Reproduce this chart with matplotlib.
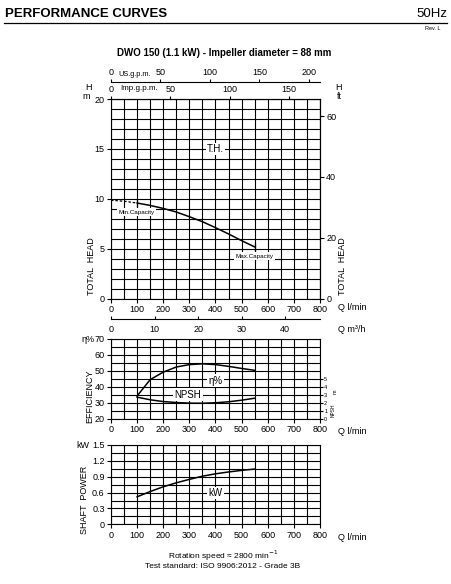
import numpy as np
import matplotlib
matplotlib.use("Agg")
import matplotlib.pyplot as plt
from matplotlib import font_manager
from matplotlib.ticker import MultipleLocator

# values
flow_head = [0, 50, 100, 150, 200, 250, 300, 350, 400, 450, 500, 550]
head = [9.85, 9.75, 9.57, 9.33, 9.03, 8.67, 8.2, 7.7, 7.1, 6.47, 5.8, 5.17]
min_capacity = 100
max_capacity = 550

flow_eff = [100, 120, 150, 200, 250, 300, 350, 400, 450, 500, 550]
efficiency = [34.4, 38.5, 44.6, 49.3, 52.5, 54.0, 54.5, 54.0, 52.9, 51.6, 50.4]

flow_npsh = [100, 150, 200, 250, 300, 350, 400, 450, 500, 550]
npsh = [2.73, 2.4, 2.18, 2.06, 1.98, 1.97, 2.03, 2.15, 2.35, 2.6]

flow_power = [100, 150, 200, 250, 300, 350, 400, 450, 500, 550]
power = [0.52, 0.62, 0.71, 0.785, 0.85, 0.91, 0.955, 0.99, 1.02, 1.045]

q_ticks = [0, 100, 200, 300, 400, 500, 600, 700, 800]
usgpm_ticks = [0, 50, 100, 150, 200]
impgpm_ticks = [0, 50, 100, 150]
m3h_ticks = [0, 10, 20, 30, 40]
ft_ticks = [0, 20, 40, 60]
eff_ticks = [20, 30, 40, 50, 60, 70]
npsh_ticks = [0, 1, 2, 3, 4, 5]
power_ticks = [0, 0.3, 0.6, 0.9, 1.2, 1.5]

names = {f.name for f in font_manager.fontManager.ttflist}
narrow = 'Liberation Sans Narrow' if 'Liberation Sans Narrow' in names else 'Liberation Sans'
plt.rcParams['font.family'] = [narrow, 'DejaVu Sans']

W, H = 452, 584
fig = plt.figure(figsize=(W / 100, H / 100), dpi=100)


def fx(px):
    return px / W


def fy(py):
    return 1 - py / H


def box(left, top, right, bottom):
    return [fx(left), fy(bottom), (right - left) / W, (bottom - top) / H]


TS = 6.5  # tick label size
GRID = dict(color='black', linewidth=0.8)


def style(ax, ymin, ymax, ymajor, yminor):
    ax.set_xlim(0, 800)
    ax.set_ylim(ymin, ymax)
    ax.set_xticks(q_ticks)
    ax.xaxis.set_minor_locator(MultipleLocator(50))
    ax.yaxis.set_minor_locator(MultipleLocator(yminor))
    ax.grid(which='both', **GRID)
    ax.tick_params(which='major', direction='out', length=3, width=0.8,
                   labelsize=TS, pad=1.5)
    ax.tick_params(which='minor', length=0)
    for s in ax.spines.values():
        s.set_linewidth(0.8)
    ax.set_axisbelow(True)


lab = dict(fontsize=TS, ha='left', va='center')
bx = dict(facecolor='white', edgecolor='none', pad=1.0)

# ---- head ----
ax_h = fig.add_axes(box(111, 99, 320, 298.5))
style(ax_h, 0, 20, 5, 1)
ax_h.set_yticks([0, 5, 10, 15, 20])
ax_h.plot(flow_head[:3], head[:3], color='black', lw=0.9, ls=(0, (2, 1.5)))
ax_h.plot(flow_head[2:], head[2:], color='black', lw=1.1)
ax_h.plot([min_capacity, max_capacity],
          [head[flow_head.index(min_capacity)], head[flow_head.index(max_capacity)]],
          ls='none', marker='|', ms=6, mew=0.9, color='black')
ax_h.text(96, 8.65, 'Min.Capacity', fontsize=4.5, ha='center', va='center', bbox=bx)
ax_h.text(548, 4.25, 'Max.Capacity', fontsize=4.5, ha='center', va='center', bbox=bx)
ax_h.text(400, 15, 'T.H.', fontsize=7, ha='center', va='center', bbox=bx)

ft = ax_h.secondary_yaxis('right', functions=(lambda m: m / 0.3048, lambda f: f * 0.3048))
ft.set_yticks(ft_ticks)
ft.tick_params(direction='out', length=3, width=0.8, labelsize=TS, pad=1.5)

imp = ax_h.secondary_xaxis('top', functions=(lambda q: q / 4.54609, lambda g: g * 4.54609))
imp.set_xticks(impgpm_ticks)
imp.tick_params(direction='out', length=2, width=0.8, labelsize=TS, pad=1.5)

us = ax_h.secondary_xaxis(1 + 17 / 199.5, functions=(lambda q: q / 3.78541, lambda g: g * 3.78541))
us.set_xticks(usgpm_ticks)
us.tick_params(direction='out', length=2, width=0.8, labelsize=TS, pad=1.5)
us.spines['top'].set_linewidth(0.8)

m3h = ax_h.secondary_xaxis(-20.5 / 199.5, functions=(lambda q: q * 0.06, lambda v: v / 0.06))
m3h.set_xticks(m3h_ticks)
m3h.tick_params(direction='in', length=2, width=0.8, labelsize=TS, pad=4)
m3h.spines['bottom'].set_linewidth(0.8)

fig.text(fx(118), fy(75), 'US.g.p.m.', fontsize=5.3, ha='left', va='center')
fig.text(fx(120), fy(89), 'Imp.g.p.m.', fontsize=5.8, ha='left', va='center')
fig.text(fx(338), fy(308), 'Q l/min', **lab)
fig.text(fx(338), fy(329), 'Q m³/h', **lab)
fig.text(fx(89), fy(88), 'H', fontsize=TS, ha='center', va='center')
fig.text(fx(86), fy(97), 'm', fontsize=TS, ha='center', va='center')
fig.text(fx(338), fy(88), 'H', fontsize=TS, ha='center', va='center')
fig.text(fx(339), fy(97), 'ft', fontsize=TS, ha='center', va='center')
fig.text(fx(92), fy(266), 'TOTAL  HEAD', fontsize=TS, rotation=90, ha='center', va='center')
fig.text(fx(343), fy(266), 'TOTAL  HEAD', fontsize=TS, rotation=90, ha='center', va='center')

# ---- efficiency / npsh ----
ax_e = fig.add_axes(box(111, 339, 320, 419))
style(ax_e, 20, 70, 10, 5)
ax_e.set_yticks(eff_ticks)
ax_e.plot(flow_eff, efficiency, color='black', lw=1.1)
ax_e.text(400, 44, 'η%', fontsize=7, ha='center', va='center', bbox=bx)
ax_e.text(295, 35.3, 'NPSH', fontsize=7, ha='center', va='center', bbox=bx)

ax_n = ax_e.twinx()
ax_n.set_ylim(0, 10)
ax_n.set_yticks(npsh_ticks)
ax_n.tick_params(direction='out', length=2, width=0.8, labelsize=4, pad=1)
for s in ax_n.spines.values():
    s.set_visible(False)
ax_n.plot(flow_npsh, npsh, color='black', lw=1.1)

fig.text(fx(88), fy(339), 'η%', fontsize=TS, ha='center', va='center')
fig.text(fx(90), fy(396), 'EFFICIENCY', fontsize=TS, rotation=90, ha='center', va='center')
fig.text(fx(338), fy(431), 'Q l/min', **lab)
fig.text(fx(335), fy(392), 'm', fontsize=4, rotation=90, ha='center', va='center')
fig.text(fx(333), fy(410), 'NPSH', fontsize=3.5, rotation=90, ha='center', va='center')

# ---- shaft power ----
ax_p = fig.add_axes(box(111, 445, 320, 524.3))
style(ax_p, 0, 1.5, 0.3, 0.15)
ax_p.set_yticks(power_ticks)
ax_p.set_yticklabels(['0', '0.3', '0.6', '0.9', '1.2', '1.5'])
ax_p.plot(flow_power, power, color='black', lw=1.1)
ax_p.text(400, 0.59, 'kW', fontsize=7, ha='center', va='center', bbox=bx)

fig.text(fx(83), fy(445), 'kW', fontsize=TS, ha='center', va='center')
fig.text(fx(85), fy(500), 'SHAFT  POWER', fontsize=TS, rotation=90, ha='center', va='center')
fig.text(fx(338), fy(537), 'Q l/min', **lab)

# ---- header / footer ----
fig.text(fx(5), fy(14), 'PERFORMANCE CURVES', fontsize=9.5, fontweight='bold',
         family='Liberation Sans', ha='left', va='center')
fig.text(fx(447), fy(14), '50Hz', fontsize=9.5, family='Liberation Sans', ha='right', va='center')
fig.add_artist(plt.Line2D([fx(4), fx(447)], [fy(23), fy(23)], color='black', lw=0.9))
fig.text(fx(441), fy(29), 'Rev. L', fontsize=4, family='Liberation Sans', ha='right', va='center')
fig.text(fx(224), fy(53), 'DWO 150 (1.1 kW) - Impeller diameter = 88 mm', fontsize=7,
         fontweight='bold', family='Liberation Sans', ha='center', va='center')
fig.text(fx(223), fy(556), 'Rotation speed ≈ 2800 min$^{-1}$', fontsize=6,
         family='Liberation Sans', ha='center', va='center')
fig.text(fx(223), fy(567), 'Test standard: ISO 9906:2012 - Grade 3B', fontsize=6,
         family='Liberation Sans', ha='center', va='center')

fig.savefig('out.png', dpi=100)
